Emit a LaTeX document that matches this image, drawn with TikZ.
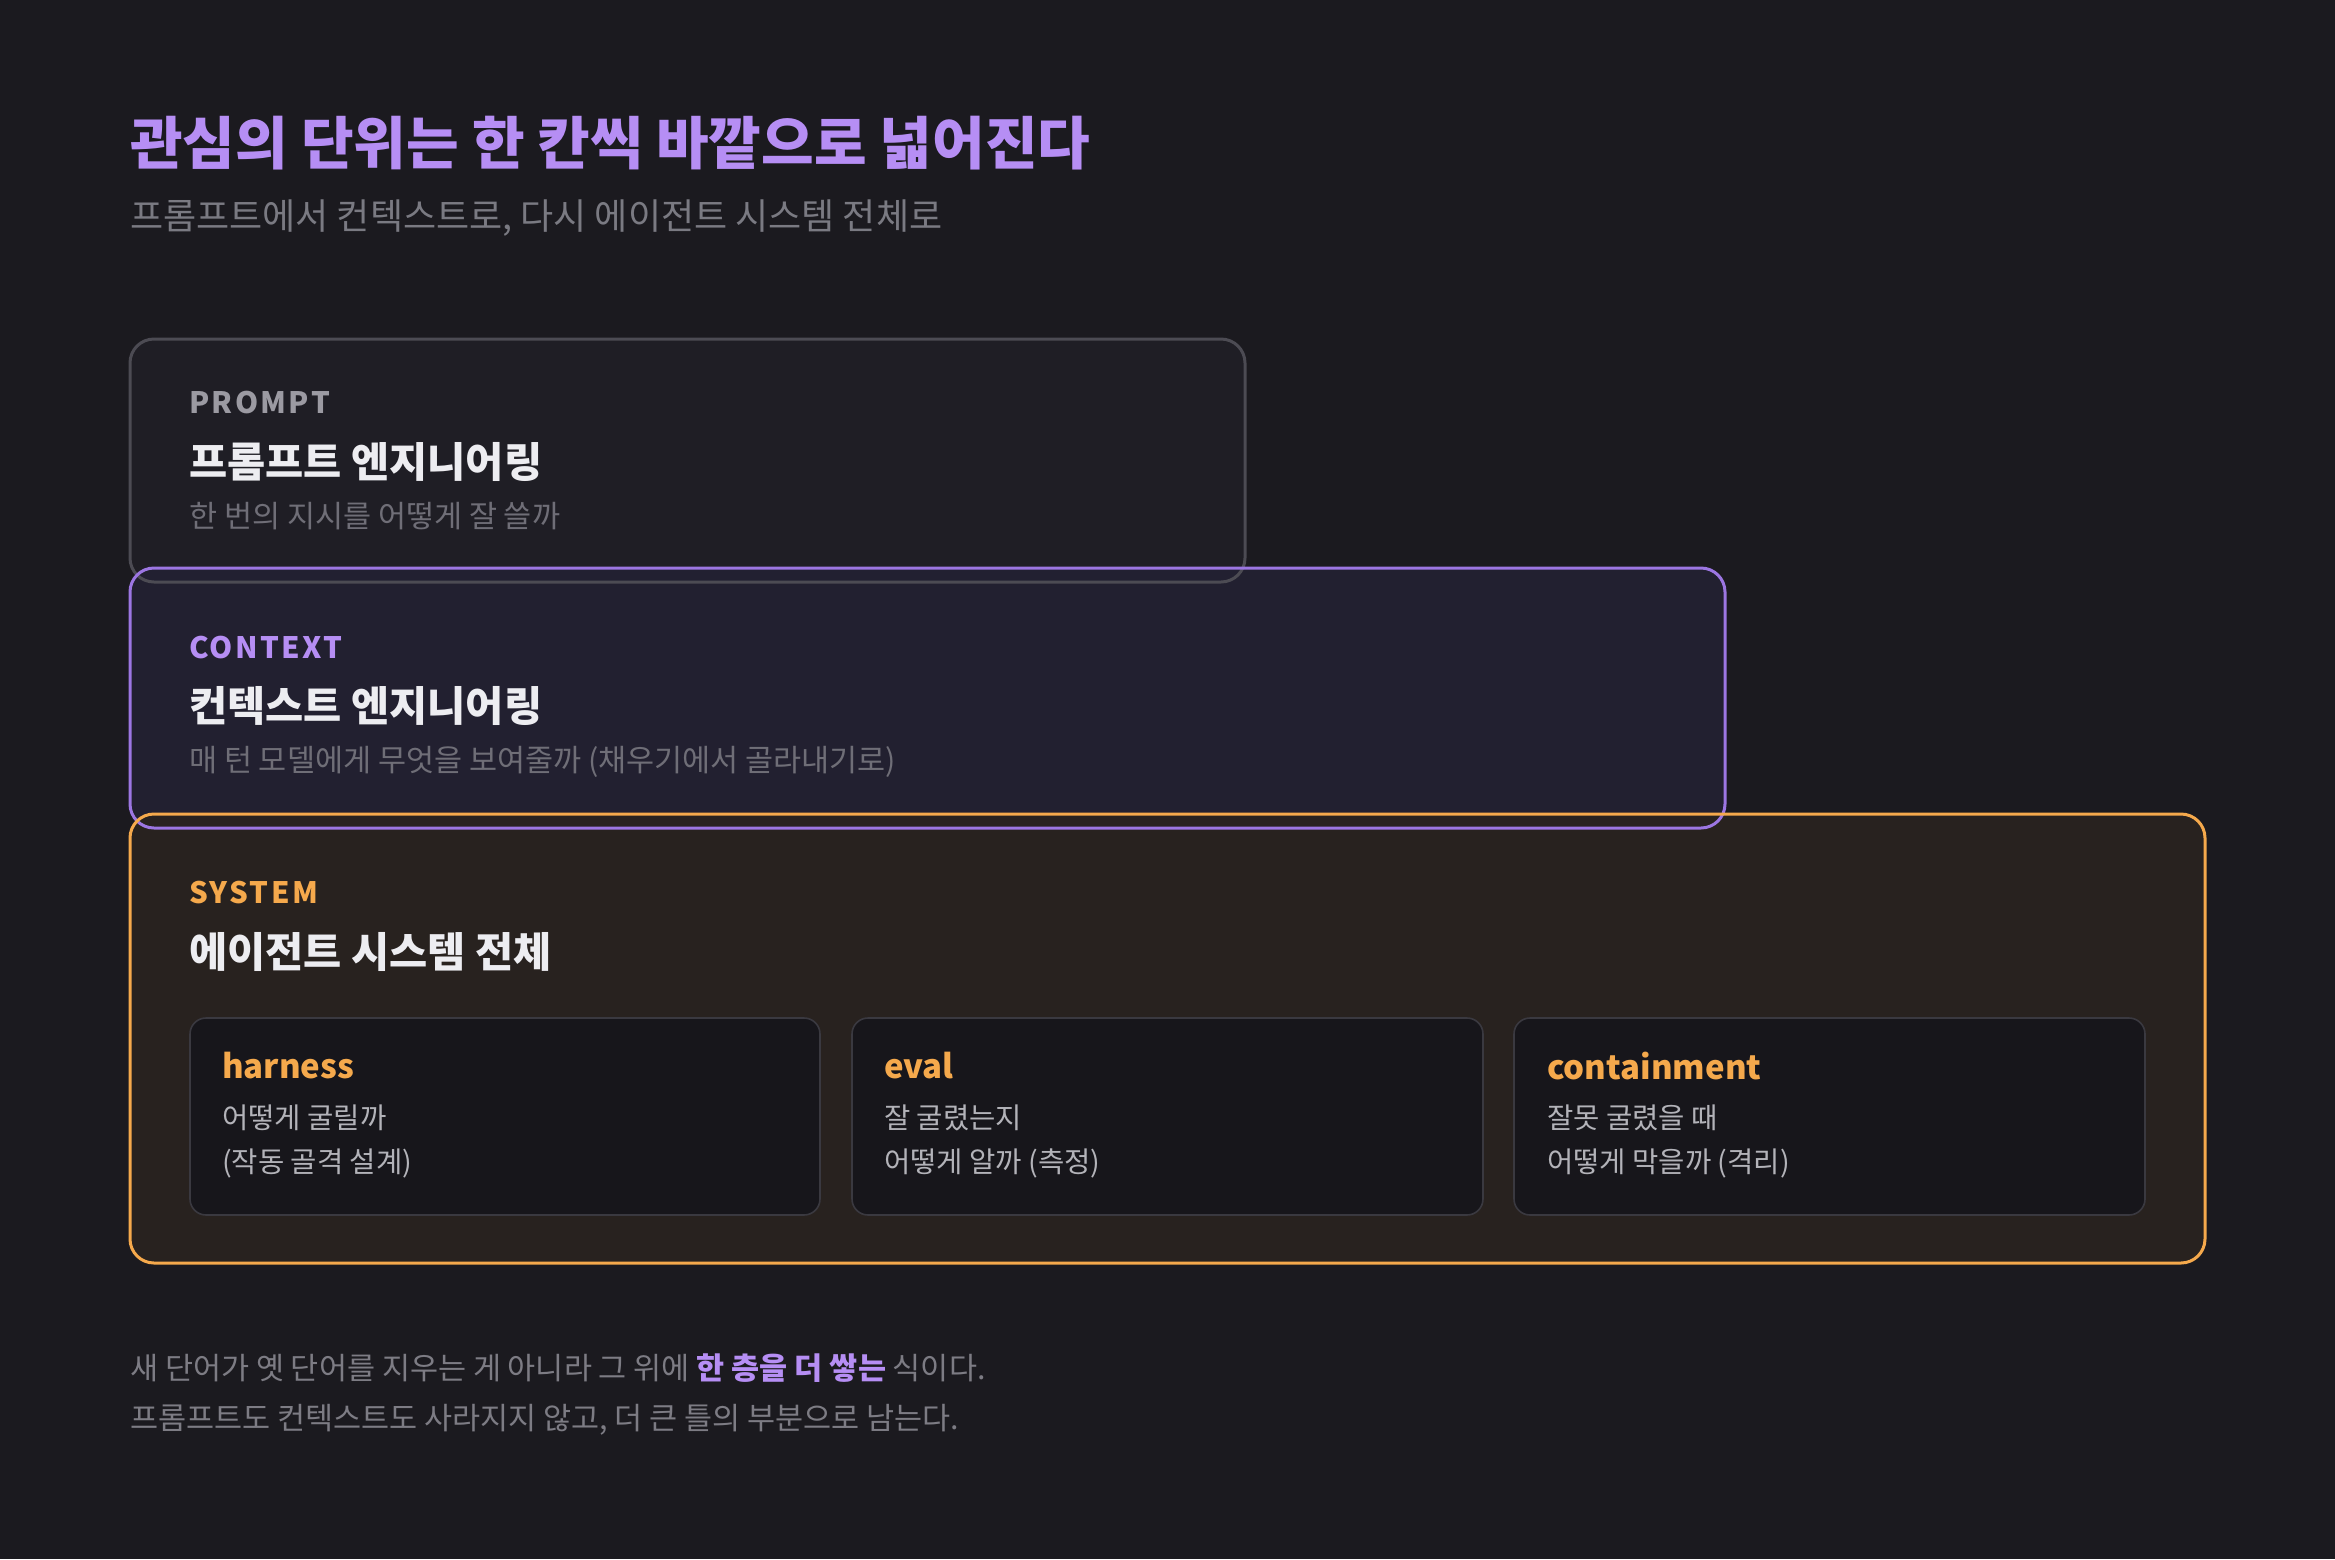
\documentclass[tikz,border=0pt]{standalone}
\usepackage{fontspec}
\setmainfont{Noto Sans CJK KR}
\definecolor{bg}{HTML}{1B1A1F}
\definecolor{ttl}{HTML}{B68EF4}
\definecolor{subc}{HTML}{7A7A82}
\definecolor{headc}{HTML}{EDEDF1}
\definecolor{descc}{HTML}{6F6E77}
\definecolor{pfill}{HTML}{1F1E25}
\definecolor{pline}{HTML}{4C4B53}
\definecolor{plbl}{HTML}{9B9AA2}
\definecolor{cfill}{HTML}{232132}
\definecolor{cline}{HTML}{9C76E2}
\definecolor{sfill}{HTML}{29231F}
\definecolor{orng}{HTML}{F5A94C}
\definecolor{kfill}{HTML}{17161B}
\definecolor{kline}{HTML}{3A3940}
\definecolor{ctextc}{HTML}{B3B3B9}
\definecolor{footc}{HTML}{7D7C84}
\begin{document}
\begin{tikzpicture}[x=1pt,y=-1pt,
  lbl/.style={anchor=west, inner sep=0, font=\fontsize{29.5}{31}\selectfont\bfseries\addfontfeature{LetterSpace=8}},
  head/.style={anchor=west, inner sep=0, text=headc, font=\fontsize{41.5}{46}\selectfont\bfseries},
  desc/.style={anchor=west, inner sep=0, text=descc, font=\fontsize{30.5}{34}\selectfont},
  ctitle/.style={anchor=west, inner sep=0, text=orng, font=\fontsize{33}{36}\selectfont\bfseries},
  ctext/.style={anchor=west, inner sep=0, text=ctextc, font=\fontsize{28.6}{32}\selectfont},
  foot/.style={anchor=west, inner sep=0, text=footc, font=\fontsize{30.5}{34}\selectfont},
  layer/.style={rounded corners=24pt, line width=3pt},
  card/.style={rounded corners=16pt, line width=1.6pt, draw=kline, fill=kfill}]
\useasboundingbox (0,0) rectangle (2335,1559);
\fill[bg] (0,0) rectangle (2335,1559);
% title
\node[anchor=west, inner sep=0, text=ttl, font=\fontsize{57.2}{62}\selectfont\bfseries] (title) at (130,143) {관심의 단위는 한 칸씩 바깥으로 넓어진다};
\node[anchor=west, inner sep=0, text=subc, font=\fontsize{36}{40}\selectfont] (subtitle) at (130,218) {프롬프트에서 컨텍스트로, 다시 에이전트 시스템 전체로};
% layer fills
\fill[layer, pfill] (130,339) rectangle (1245,582);
\fill[layer, cfill, fill opacity=0.93] (130,568) rectangle (1725,828);
\fill[layer, sfill, fill opacity=0.93] (130,814) rectangle (2205,1263);
% layer borders
\draw[layer, pline] (130,339) rectangle (1245,582);
\draw[layer, cline] (130,568) rectangle (1725,828);
\draw[layer, orng] (130,814) rectangle (2205,1263);
% prompt
\node[lbl, text=plbl] (plabel) at (189,403) {PROMPT};
\node[head] (phead) at (189,462) {프롬프트 엔지니어링};
\node[desc] (pdesc) at (189,516) {한 번의 지시를 어떻게 잘 쓸까};
% context
\node[lbl, text=ttl] (clabel) at (189,648) {CONTEXT};
\node[head] (chead) at (189,706) {컨텍스트 엔지니어링};
\node[desc] (cdesc) at (189,762) {매 턴 모델에게 무엇을 보여줄까 (채우기에서 골라내기로)};
% system
\node[lbl, text=orng] (slabel) at (189,893) {SYSTEM};
\node[head] (shead) at (189,952) {에이전트 시스템 전체};
% cards
\draw[card] (190,1018) rectangle (820,1215);
\draw[card] (852,1018) rectangle (1483,1215);
\draw[card] (1514,1018) rectangle (2145,1215);
\node[ctitle] (hname) at (222,1066) {harness};
\node[ctext] (ha) at (222,1118) {어떻게 굴릴까};
\node[ctext] (hb) at (222,1163) {(작동 골격 설계)};
\node[ctitle] (ename) at (884,1066) {eval};
\node[ctext] (ea) at (884,1118) {잘 굴렸는지};
\node[ctext] (eb) at (884,1163) {어떻게 알까 (측정)};
\node[ctitle] (kname) at (1547,1066) {containment};
\node[ctext] (ka) at (1547,1118) {잘못 굴렸을 때};
\node[ctext] (kb) at (1547,1163) {어떻게 막을까 (격리)};
% footer
\node[foot] (f1) at (130,1368) {새 단어가 옛 단어를 지우는 게 아니라 그 위에 \textcolor{ttl}{\bfseries 한 층을 더 쌓는} 식이다.};
\node[foot] (f2) at (130,1420) {프롬프트도 컨텍스트도 사라지지 않고, 더 큰 틀의 부분으로 남는다.};
\end{tikzpicture}
\end{document}
